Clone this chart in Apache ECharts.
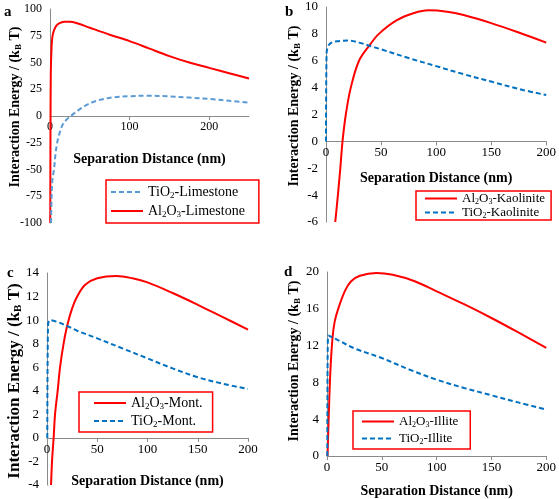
<!DOCTYPE html>
<html><head><meta charset="utf-8">
<script src="https://cdn.jsdelivr.net/npm/echarts@6/dist/echarts.min.js"></script>
<style>html,body{margin:0;padding:0;background:#fff}#c{width:559px;height:499px}</style>
</head><body><div id="c"></div>
<script>
// ---- Panel a : Limestone ----
const aRedX = [0.3, 0.6, 1, 2, 3, 5, 8, 12, 18, 25, 35, 50, 75, 100, 125, 150, 175, 200, 225, 250];
const aRedY = [-100, -20, 40, 65, 74, 80, 84.5, 86.8, 88, 88.2, 86.5, 82.5, 76, 70, 63, 56, 50, 45, 40, 35];
const aBlueX = [1.3, 2, 3, 5, 7, 9, 12, 16, 20, 26, 35, 45, 60, 80, 100, 120, 150, 175, 200, 225, 250];
const aBlueY = [-100, -75, -60, -50, -35, -25, -16, -8, -4, 0, 5, 10, 14.5, 17.5, 18.5, 19, 18.3, 17.2, 16, 14.3, 12.5];
// ---- Panel b : Kaolinite ----
const bRedX = [8.4, 10.8, 13, 15, 18, 22.5, 30, 40, 48, 64, 80, 93, 110, 125, 150, 175, 200];
const bRedY = [-6, -4, -2, 0, 2, 4, 6, 7.2, 8, 9, 9.55, 9.75, 9.65, 9.4, 8.8, 8.1, 7.35];
const bBlueX = [0, 0.5, 2, 5, 10, 20, 30, 40, 50, 75, 100, 125, 150, 175, 200];
const bBlueY = [0, 6.5, 7.1, 7.35, 7.45, 7.5, 7.35, 7.1, 6.85, 6.2, 5.6, 5.0, 4.45, 3.9, 3.45];
// ---- Panel c : Montmorillonite ----
const cRedX = [4, 5, 6.6, 8, 10.6, 13, 16.5, 20, 25, 30, 38, 50, 69, 85, 100, 125, 150, 175, 200];
const cRedY = [-4, -2, 0, 2, 4, 6, 8, 9.5, 11, 12, 13, 13.55, 13.75, 13.55, 13.2, 12.3, 11.3, 10.25, 9.2];
const cBlueX = [0.3, 1, 3, 10, 20, 30, 50, 75, 100, 125, 150, 175, 200];
const cBlueY = [0, 9.5, 10, 9.85, 9.5, 9.1, 8.45, 7.6, 6.75, 5.9, 5.15, 4.6, 4.15];
// ---- Panel d : Illite ----
const dRedX = [0.5, 1.5, 3, 5, 7, 10.5, 16.6, 22, 30, 45, 60, 80, 100, 125, 150, 175, 200];
const dRedY = [0, 4, 9, 12.8, 14.6, 16.1, 18, 19, 19.6, 19.9, 19.7, 19.0, 17.9, 16.5, 15, 13.4, 11.75];
const dBlueX = [0.3, 1, 5, 10, 25, 50, 75, 100, 125, 150, 175, 200];
const dBlueY = [0, 13.1, 12.9, 12.6, 11.7, 10.65, 9.4, 8.3, 7.4, 6.6, 5.8, 5.05];

const SERIF = 'Liberation Serif';
const RED = '#ff0000';
const BLUE = '#0070c0';
const BLUE_A = '#5b9bd5';
const zip = (xs, ys) => xs.map((x, i) => [x, ys[i]]);

const grids = [
  {left: 50, top: 9, width: 199, height: 214},
  {left: 326, top: 7, width: 222, height: 215},
  {left: 47, top: 273, width: 201, height: 212},
  {left: 327, top: 272, width: 221, height: 186}
];
const xCfg = [
  {max: 250, interval: 100, size: 12, gap: 36, hideMax: true},
  {max: 200, interval: 50, size: 13, gap: 30},
  {max: 200, interval: 50, size: 13, gap: 37},
  {max: 200, interval: 50, size: 13, gap: 28}
];
const yCfg = [
  {min: -100, max: 100, interval: 25, size: 12},
  {min: -6, max: 10, interval: 2, size: 13},
  {min: -4, max: 14, interval: 2, size: 13},
  {min: 0, max: 20, interval: 4, size: 13}
];
const axisTick = {show: true, length: 4, lineStyle: {color: '#8a8a8a'}};

const xAxis = xCfg.map((c, i) => {
  const y = yCfg[i], g = grids[i];
  // move the x axis (line, labels, name) up to the y = 0 level
  const off = -g.height * (0 - y.min) / (y.max - y.min);
  return {
    type: 'value', gridIndex: i, min: 0, max: c.max, interval: c.interval,
    position: 'bottom', offset: off,
    axisLine: {show: true, onZero: false, lineStyle: {color: '#8a8a8a', width: 1}},
    axisTick, splitLine: {show: false},
    axisLabel: {color: '#000', fontFamily: SERIF, fontSize: c.size, margin: 5, showMaxLabel: !c.hideMax},
    name: 'Separation Distance (nm)', nameLocation: 'middle', nameGap: c.gap,
    nameTextStyle: {color: '#000', fontFamily: SERIF, fontWeight: 'bold', fontSize: 14}
  };
});
const yAxis = yCfg.map((c, i) => ({
  type: 'value', gridIndex: i, min: c.min, max: c.max, interval: c.interval,
  axisLine: {show: true, onZero: false, lineStyle: {color: '#8a8a8a', width: 1}},
  axisTick: {show: false}, splitLine: {show: false},
  axisLabel: {color: '#000', fontFamily: SERIF, fontSize: c.size, margin: 8}
}));

const mk = (name, idx, xs, ys, color, dashed) => ({
  name, type: 'line', xAxisIndex: idx, yAxisIndex: idx, data: zip(xs, ys),
  smooth: 0.35, showSymbol: false, symbol: 'none',
  lineStyle: {color, width: 2, type: dashed ? [5, 3] : 'solid'},
  itemStyle: {color}, z: dashed ? 3 : 2
});
const series = [
  mk('TiO2-Limestone', 0, aBlueX, aBlueY, BLUE_A, true),
  mk('Al2O3-Limestone', 0, aRedX, aRedY, RED, false),
  mk('Al2O3-Kaolinite', 1, bRedX, bRedY, RED, false),
  mk('TiO2-Kaolinite', 1, bBlueX, bBlueY, BLUE, true),
  mk('Al2O3-Mont.', 2, cRedX, cRedY, RED, false),
  mk('TiO2-Mont.', 2, cBlueX, cBlueY, BLUE, true),
  mk('Al2O3-Illite', 3, dRedX, dRedY, RED, false),
  mk('TiO2-Illite', 3, dBlueX, dBlueY, BLUE, true)
];

const subFmt = n => n.replace(/(\d)/g, '{s|$1}');
const legendText = size => ({
  color: '#000', fontFamily: SERIF, fontSize: size,
  rich: {s: {fontSize: Math.round(size * 0.65), fontFamily: SERIF, color: '#000', padding: [7, 0, 0, 0]}}
});
const mkLegend = (data, left, top, size, pad, gap) => ({
  data, left, top, orient: 'vertical', itemWidth: 32, itemHeight: 12, itemGap: gap,
  padding: pad, borderColor: RED, borderWidth: 1.5, borderRadius: 0,
  itemStyle: {opacity: 0},
  formatter: subFmt, textStyle: legendText(size), selectedMode: false
});
const legend = [
  mkLegend(['TiO2-Limestone', 'Al2O3-Limestone'], 106, 180, 14, [5, 14, 4, 4], 4),
  mkLegend(['Al2O3-Kaolinite', 'TiO2-Kaolinite'], 416, 191, 13, [1, 6, 0, 8], 0),
  mkLegend(['Al2O3-Mont.', 'TiO2-Mont.'], 79, 392, 14, [4, 10, 3, 14], 3),
  mkLegend(['Al2O3-Illite', 'TiO2-Illite'], 353, 411, 13, [4, 12, 3, 8], 3)
];

const yTitle = (x, y, size) => ({
  type: 'text', x, y, rotation: Math.PI / 2,
  style: {
    text: 'Interaction Energy / (k{s|B} T)', fill: '#000', font: `bold ${size}px "${SERIF}"`,
    align: 'center', verticalAlign: 'middle',
    rich: {s: {fontSize: Math.round(size * 0.65), fontWeight: 'bold', fontFamily: SERIF, padding: [7, 0, 0, 0]}}
  }
});
const letter = (t, x, y) => ({
  type: 'text', x, y, style: {text: t, fill: '#000', font: `bold 15px "${SERIF}"`, align: 'left', verticalAlign: 'middle'}
});
const graphic = [
  yTitle(15, 107, 14), yTitle(294, 106, 14), yTitle(15, 381, 17), yTitle(294, 361, 14),
  letter('a', 4, 12), letter('b', 285, 12), letter('c', 7, 273), letter('d', 284, 272)
];

const chart = echarts.init(document.getElementById('c'), null, {renderer: 'canvas'});
chart.setOption({animation: false, backgroundColor: '#fff', grid: grids, xAxis, yAxis, series, legend, graphic});
</script></body></html>
